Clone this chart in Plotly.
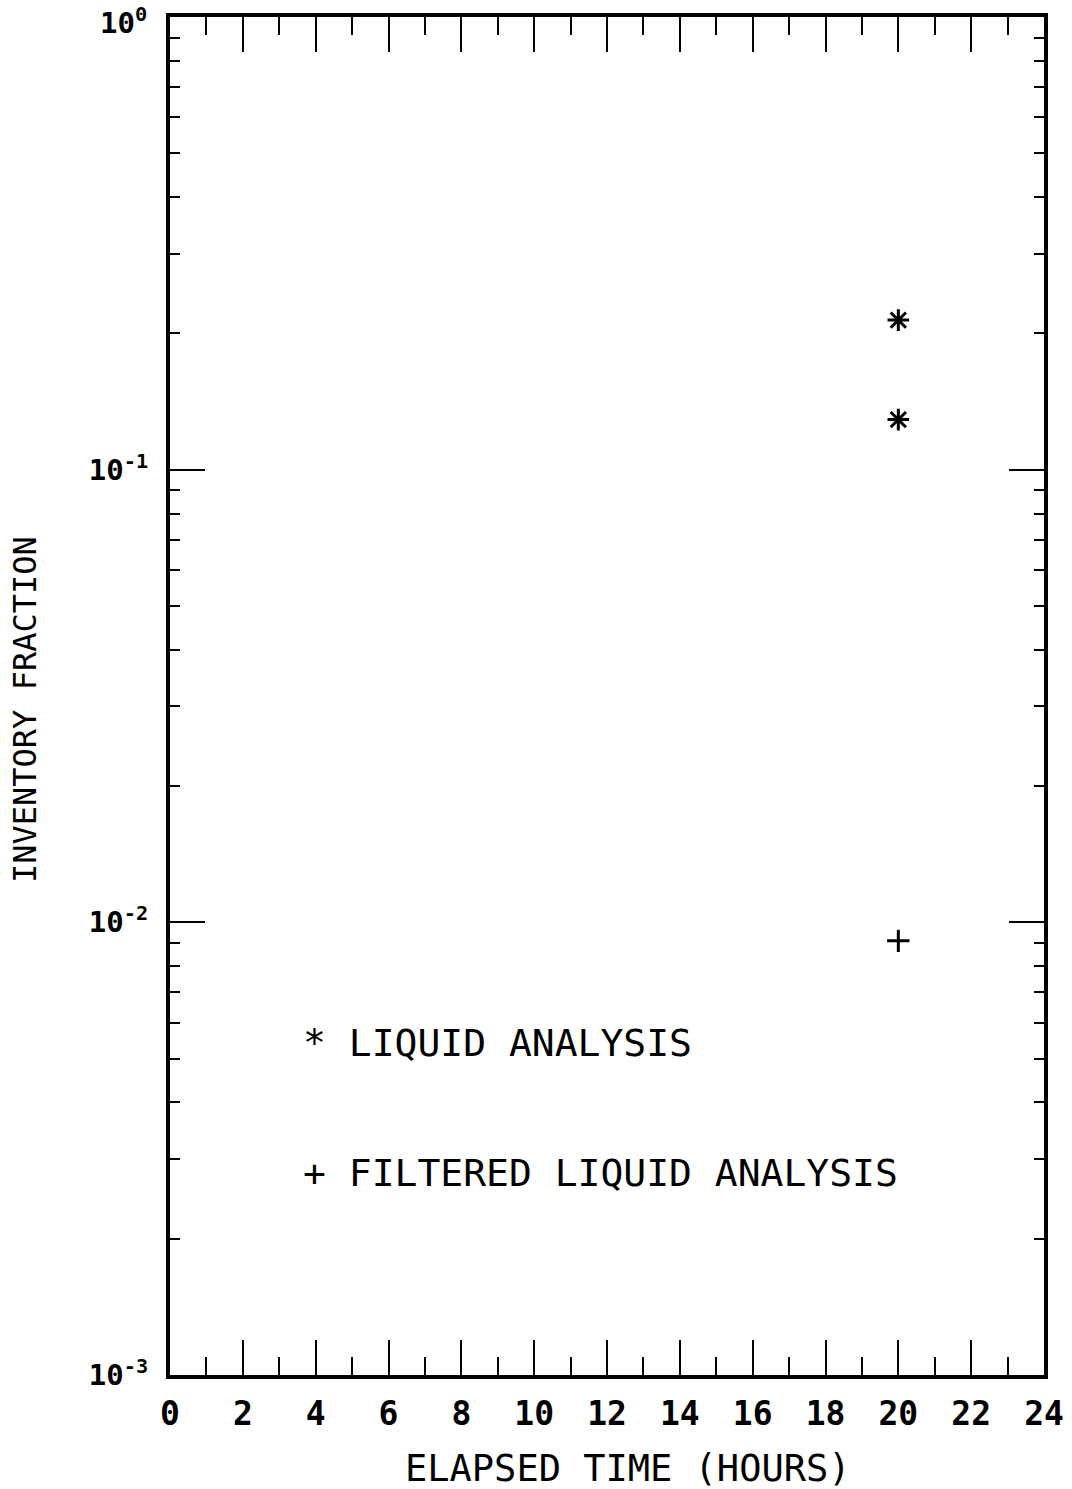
import math
import plotly.graph_objects as go

# Measured inventory fractions
liquid_hours = [20, 20]
liquid_fraction = [0.214, 0.129]
filtered_hours = [20]
filtered_fraction = [0.0091]

x_tick_values = list(range(0, 25, 2))
x_tick_labels = [str(v) for v in x_tick_values]
y_tick_values = [0.001, 0.01, 0.1, 1]
y_tick_labels = ["10<sup>-3</sup>", "10<sup>-2</sup>", "10<sup>-1</sup>", "10<sup>0</sup>"]

legend_labels = ["* LIQUID ANALYSIS", "+ FILTERED LIQUID ANALYSIS"]
legend_y = [0.0054, 0.0028]

x_title = "ELAPSED TIME (HOURS)"
y_title = "INVENTORY FRACTION"

FONT = "DejaVu Sans Mono"
INK = "black"

W, H = 1072, 1489
plot_left, plot_right, plot_top, plot_bottom = 170, 1044, 17, 1375
pw, ph = plot_right - plot_left, plot_bottom - plot_top


def px_to_paper(px, py):
    """Pixel position on the page -> paper coordinates of the plot area."""
    return (px - plot_left) / pw, (plot_bottom - py) / ph


y_minor = [m * 10.0 ** e for e in (-3, -2, -1) for m in range(2, 10)]
y_tick_font = dict(family=FONT, size=29, color=INK, weight="bold")

fig = go.Figure()
fig.add_trace(go.Scatter(
    x=liquid_hours, y=liquid_fraction, mode="markers",
    marker=dict(symbol="asterisk-open", size=18, color=INK, line=dict(width=3, color=INK)),
    showlegend=False,
))
fig.add_trace(go.Scatter(
    x=filtered_hours, y=filtered_fraction, mode="markers",
    marker=dict(symbol="cross-thin-open", size=16, color=INK, line=dict(width=3, color=INK)),
    showlegend=False,
))

# Key drawn as text inside the plot (log axis annotations take log10 positions)
for label, yv in zip(legend_labels, legend_y):
    fig.add_annotation(
        x=3.6, y=math.log10(yv), yref="y", xref="x", text=label, showarrow=False,
        xanchor="left", yanchor="middle",
        font=dict(family=FONT, size=38, color=INK),
    )

# Axis titles
tx, ty = px_to_paper(628, 1468)
fig.add_annotation(
    x=tx, y=ty, xref="paper", yref="paper", text=x_title, showarrow=False,
    xanchor="center", yanchor="middle",
    font=dict(family=FONT, size=37, color=INK),
)
tx, ty = px_to_paper(25, 710)
fig.add_annotation(
    x=tx, y=ty, xref="paper", yref="paper", text=y_title, showarrow=False,
    xanchor="center", yanchor="middle", textangle=-90,
    font=dict(family=FONT, size=32, color=INK),
)

# The top decade label sits flush with the page edge, so it is pinned below it
top_label = y_tick_labels[-1]
axis_labels = y_tick_labels[:-1] + [""]
tx, ty = px_to_paper(149, 0)
fig.add_annotation(
    x=tx, y=ty, xref="paper", yref="paper", text=top_label, showarrow=False,
    xanchor="right", yanchor="top", font=y_tick_font,
)

fig.update_xaxes(
    range=[0, 24], tickmode="array", tickvals=x_tick_values, ticktext=x_tick_labels,
    ticks="inside", ticklen=35, tickwidth=2, tickcolor=INK,
    showline=True, linewidth=4, linecolor=INK, mirror="ticks",
    showgrid=False, zeroline=False, automargin=False, ticklabelstandoff=6,
    ticklabeloverflow="allow",
    minor=dict(ticks="inside", dtick=1, ticklen=18, tickwidth=2, tickcolor=INK, showgrid=False),
    tickfont=dict(family=FONT, size=33, color=INK, weight="bold"),
)
fig.update_yaxes(
    type="log", range=[-3, 0], tickmode="array", tickvals=y_tick_values, ticktext=axis_labels,
    ticks="inside", ticklen=35, tickwidth=2, tickcolor=INK,
    showline=True, linewidth=4, linecolor=INK, mirror="ticks",
    showgrid=False, zeroline=False, automargin=False, ticklabelstandoff=12,
    ticklabeloverflow="allow",
    minor=dict(ticks="inside", tickmode="array", tickvals=y_minor, ticklen=10, tickwidth=2,
               tickcolor=INK, showgrid=False),
    tickfont=y_tick_font,
)

fig.update_layout(
    width=W, height=H,
    margin=dict(l=plot_left, r=W - plot_right, t=plot_top, b=H - plot_bottom),
    paper_bgcolor="white", plot_bgcolor="white",
    font=dict(family=FONT, color=INK),
)

fig.write_html("out.html")
